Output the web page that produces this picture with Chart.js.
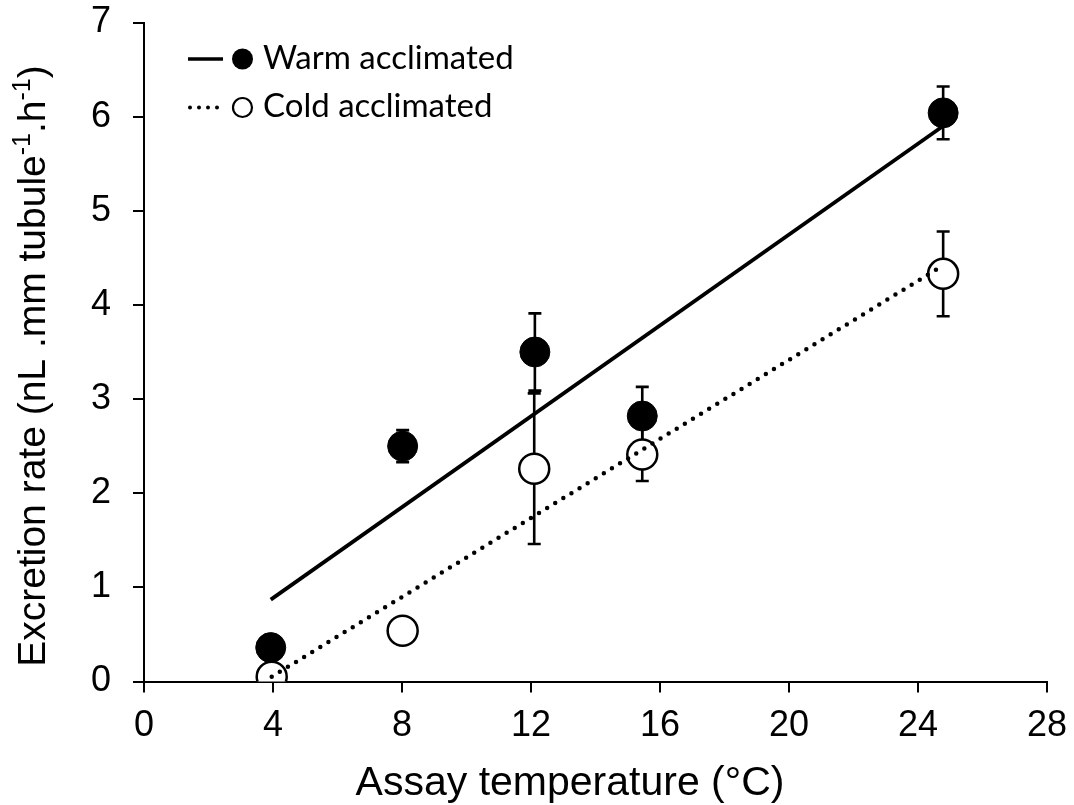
<!DOCTYPE html>
<html lang="en">
<head>
    <meta charset="UTF-8">
    <title>Excretion rate vs assay temperature</title>
    <script src="https://cdn.jsdelivr.net/npm/chart.js"></script>
    <style>
        html, body {
            margin: 0;
            padding: 0;
            background: #fff;
        }
        .chart-box {
            width: 1074px;
            height: 805px;
            position: relative;
        }
    </style>
</head>
<body>
    <div class="chart-box">
        <canvas id="rateChart"></canvas>
    </div>

    <script>
        // values
        const warmTemps = [3.93, 8.02, 12.12, 15.45, 24.78];
        const warmRates = [0.36, 2.50, 3.50, 2.82, 6.04];
        const warmErr = [0.08, 0.17, 0.41, 0.31, 0.28];

        const coldTemps = [3.96, 8.02, 12.10, 15.45, 24.78];
        const coldRates = [0.05, 0.54, 2.26, 2.41, 4.33];
        const coldErr = [0.05, 0.08, 0.80, 0.28, 0.45];

        // fitted lines (end points)
        const warmFitX = [3.93, 24.78];
        const warmFitY = [0.87, 5.90];
        const coldFitX = [3.96, 24.78];
        const coldFitY = [0.05, 4.42];

        const xTicks = [0, 4, 8, 12, 16, 20, 24, 28];
        const yTicks = [0, 1, 2, 3, 4, 5, 6, 7];

        const legendNames = ['Warm acclimated', 'Cold acclimated'];
        const xTitle = 'Assay temperature (°C)';

        const toPoints = (xs, ys) => xs.map((x, i) => ({ x: x, y: ys[i] }));

        const errorBars = {
            id: 'errorBars',
            beforeDatasetsDraw(chart) {
                const { ctx, scales: { x, y } } = chart;
                ctx.save();
                ctx.strokeStyle = '#000';
                ctx.lineWidth = 2.6;
                const draw = (xs, ys, es) => {
                    xs.forEach((t, i) => {
                        const px = x.getPixelForValue(t);
                        const top = y.getPixelForValue(ys[i] + es[i]);
                        const bot = y.getPixelForValue(ys[i] - es[i]);
                        ctx.beginPath();
                        ctx.moveTo(px, top); ctx.lineTo(px, bot);
                        ctx.moveTo(px - 6.5, top); ctx.lineTo(px + 6.5, top);
                        ctx.moveTo(px - 6.5, bot); ctx.lineTo(px + 6.5, bot);
                        ctx.stroke();
                    });
                };
                draw(warmTemps, warmRates, warmErr);
                draw(coldTemps, coldRates, coldErr);
                ctx.restore();
            }
        };

        const titlesAndLegend = {
            id: 'titlesAndLegend',
            afterDraw(chart) {
                const { ctx } = chart;
                ctx.save();
                ctx.fillStyle = '#000';

                // x title
                ctx.font = '41px "Liberation Sans", Arial, sans-serif';
                ctx.textAlign = 'center';
                ctx.textBaseline = 'alphabetic';
                ctx.fillText(xTitle, 570, 795);

                // y title with superscripts
                const parts = [
                    ['Excretion rate (nL .mm tubule', false],
                    ['-1', true],
                    ['.h', false],
                    ['-1', true],
                    [')', false]
                ];
                const big = '39px "Liberation Sans", Arial, sans-serif';
                const small = '25px "Liberation Sans", Arial, sans-serif';
                let total = 0;
                parts.forEach(p => {
                    ctx.font = p[1] ? small : big;
                    total += ctx.measureText(p[0]).width;
                });
                ctx.translate(45, 366);
                ctx.rotate(-Math.PI / 2);
                ctx.textAlign = 'left';
                let cx = -total / 2;
                parts.forEach(p => {
                    ctx.font = p[1] ? small : big;
                    ctx.fillText(p[0], cx, p[1] ? -15 : 0);
                    cx += ctx.measureText(p[0]).width;
                });
                ctx.setTransform(1, 0, 0, 1, 0, 0);

                // legend
                ctx.strokeStyle = '#000';
                ctx.lineCap = 'butt';
                ctx.lineWidth = 3.5;
                ctx.beginPath();
                ctx.moveTo(188, 59); ctx.lineTo(223, 59);
                ctx.stroke();
                ctx.beginPath();
                ctx.arc(242.5, 59, 10.5, 0, Math.PI * 2);
                ctx.fill();

                ctx.lineCap = 'round';
                ctx.lineWidth = 4;
                ctx.setLineDash([0, 9]);
                ctx.beginPath();
                ctx.moveTo(190, 107.5); ctx.lineTo(222, 107.5);
                ctx.stroke();
                ctx.setLineDash([]);
                ctx.lineWidth = 2.2;
                ctx.beginPath();
                ctx.arc(242.5, 107.5, 9.5, 0, Math.PI * 2);
                ctx.stroke();

                ctx.font = '33px Lato, "Open Sans", sans-serif';
                ctx.textBaseline = 'middle';
                ctx.textAlign = 'left';
                ctx.fillText(legendNames[0], 263, 58);
                ctx.fillText(legendNames[1], 263, 106);
                ctx.restore();
            }
        };

        new Chart(document.getElementById('rateChart'), {
            type: 'scatter',
            data: {
                datasets: [
                    {
                        label: 'Cold fit',
                        type: 'line',
                        data: toPoints(coldFitX, coldFitY),
                        borderColor: '#000',
                        borderWidth: 4.5,
                        borderDash: [0, 9.5],
                        borderCapStyle: 'round',
                        pointRadius: 0,
                        fill: false,
                        order: 0
                    },
                    {
                        label: legendNames[1],
                        data: toPoints(coldTemps, coldRates),
                        backgroundColor: '#fff',
                        borderColor: '#000',
                        borderWidth: 2.5,
                        pointRadius: 15,
                        order: 1
                    },
                    {
                        label: legendNames[0],
                        data: toPoints(warmTemps, warmRates),
                        backgroundColor: '#000',
                        borderColor: '#000',
                        borderWidth: 1,
                        pointRadius: 15,
                        order: 1
                    },
                    {
                        label: 'Warm fit',
                        type: 'line',
                        data: toPoints(warmFitX, warmFitY),
                        borderColor: '#000',
                        borderWidth: 3.8,
                        pointRadius: 0,
                        fill: false,
                        order: 2
                    }
                ]
            },
            options: {
                responsive: true,
                maintainAspectRatio: false,
                animation: false,
                layout: { padding: { top: 22.5, right: 27, left: 0, bottom: 0 } },
                plugins: {
                    legend: { display: false },
                    tooltip: { enabled: false }
                },
                scales: {
                    x: {
                        type: 'linear',
                        min: 0,
                        max: 28,
                        afterBuildTicks: s => { s.ticks = xTicks.map(v => ({ value: v })); },
                        afterFit: s => {
                            s.height = 805 - 681.5;
                            s.paddingLeft = 0;
                            s.paddingRight = 0;
                        },
                        grid: { drawOnChartArea: false, drawTicks: true, tickLength: 11, color: '#000', lineWidth: 2 },
                        border: { color: '#000', width: 2 },
                        ticks: {
                            color: '#000',
                            padding: 12,
                            maxRotation: 0,
                            font: { family: '"Liberation Sans", Arial, sans-serif', size: 36 }
                        }
                    },
                    y: {
                        type: 'linear',
                        min: 0,
                        max: 7,
                        afterBuildTicks: s => { s.ticks = yTicks.map(v => ({ value: v })); },
                        afterFit: s => {
                            s.width = 144;
                            s.paddingTop = 0;
                            s.paddingBottom = 0;
                        },
                        grid: { drawOnChartArea: false, drawTicks: true, tickLength: 11, color: '#000', lineWidth: 2 },
                        border: { color: '#000', width: 2 },
                        ticks: {
                            color: '#000',
                            padding: 22,
                            font: { family: '"Liberation Sans", Arial, sans-serif', size: 36 }
                        }
                    }
                }
            },
            plugins: [errorBars, titlesAndLegend]
        });
    </script>
</body>
</html>
